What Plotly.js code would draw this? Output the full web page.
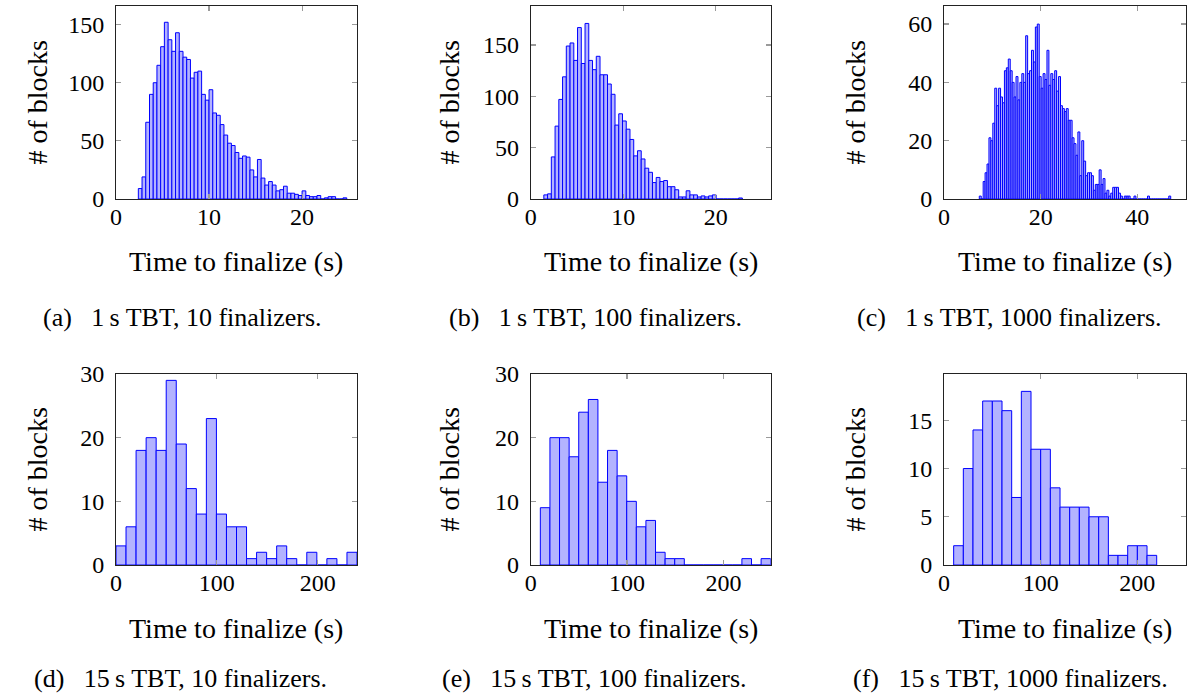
<!DOCTYPE html>
<html>
<head>
<meta charset="utf-8">
<script src="https://cdn.plot.ly/plotly-3.0.1.min.js"></script>
<style>
  html, body { margin: 0; padding: 0; background: #fff; }
  #chart { width: 1190px; height: 693px; }
</style>
</head>
<body>
<div id="chart"></div>
<script>
// ---------- data (histogram counts per bin) ----------
const countsA = [9,19,66,90,100,115,131,152,137,127,143,127,122,120,104,109,110,90,85,94,
                 74,72,64,55,48,46,40,35,37,36,25,19,34,18,12,15,12,7,8,11,
                 5,5,4,3,7,3,2,2,3,0,1,2,2,0,0,1];
const binStartA = 2.4, binWidthA = 0.4;

const countsB = [4,5,41,71,97,119,149,152,135,167,132,171,135,126,139,121,121,112,102,72,
                 83,76,68,58,42,47,39,30,26,16,21,17,18,12,12,9,2,2,8,4,
                 4,2,3,2,3,4,0,0,0,0,0,0,1];
const binStartB = 1.42, binWidthB = 0.405;

const countsC = [1,0,6,9,12,21,20,26,38,32,38,35,33,44,45,48,44,40,35,42,
                 34,40,43,40,56,43,44,51,47,59,60,42,38,43,41,51,39,43,41,44,
                 37,42,32,31,30,31,27,27,21,19,15,23,8,20,13,8,9,9,8,3,
                 5,5,10,5,7,2,3,1,2,4,4,4,2,1,0,1,1,1,0,0,
                 1,0,0,0,0,0,0,1,0,0,0,0,0,0,0,0,0,0,1];
const binStartC = 7.3, binWidthC = 0.4;

const countsD = [3,6,18,20,18,29,19,12,8,23,8,6,6,1,2,1,3,1,0,2,0,1,0,2];
const binStartD = 0, binWidthD = 239/24;

const countsE = [9,20,20,17,24,26,13,18,14,10,6,7,2,1,1,0,0,0,0,0,0,1,0,1];
const binStartE = 10, binWidthE = 239/24;

const countsF = [2,10,14,17,17,16,7,18,12,12,8,6,6,6,5,5,1,1,2,2,1];
const binStartF = 10, binWidthF = 10;

const xTitle = "Time to finalize (s)";
const yTitle = "# of blocks";
const captions = [
  "(a)\u2002 1\u2009s TBT, 10 finalizers.",
  "(b)\u2002 1\u2009s TBT, 100 finalizers.",
  "(c)\u2002 1\u2009s TBT, 1000 finalizers.",
  "(d)\u2002 15\u2009s TBT, 10 finalizers.",
  "(e)\u2002 15\u2009s TBT, 100 finalizers.",
  "(f)\u2002 15\u2009s TBT, 1000 finalizers."
];
const xTicksTop = [0, 10, 20];
const xTicksC = [0, 20, 40];
const xTicksBottom = [0, 100, 200];
const yTicksAB = [0, 50, 100, 150];
const yTicksC = [0, 20, 40, 60];
const yTicksDE = [0, 10, 20, 30];
const yTicksF = [0, 5, 10, 15];

// ---------- styling / layout ----------
const W = 1190, H = 693;
const FONT = "Liberation Serif";
const FS_TICK = 24;
const FS_TITLE = 28;
const FS_CAP = 26;
const FILL = "#b3b3ff";
const EDGE = "#0000ff";

function hist(counts, start, width, n) {
  const x = counts.map((_, i) => start + (i + 0.5) * width);
  return {
    type: "bar", x: x, y: counts, width: width,
    xaxis: "x" + (n === 1 ? "" : n), yaxis: "y" + (n === 1 ? "" : n),
    marker: { color: FILL, line: { color: EDGE, width: 1 } },
    hoverinfo: "skip"
  };
}

const traces = [
  hist(countsA, binStartA, binWidthA, 1),
  hist(countsB, binStartB, binWidthB, 2),
  hist(countsC, binStartC, binWidthC, 3),
  hist(countsD, binStartD, binWidthD, 4),
  hist(countsE, binStartE, binWidthE, 5),
  hist(countsF, binStartF, binWidthF, 6)
];

// panel boxes in pixels: [left, right, top, bottom]
const boxes = [
  [116, 357, 6, 199], [530.7, 770.7, 6, 199], [944, 1185.7, 6, 199],
  [116, 357, 374, 565], [530.7, 770.7, 374, 565], [944, 1185.7, 374, 565]
];
const xRanges = [[0, 25.9], [0, 25.95], [0, 50], [0, 239], [0, 249], [0, 250]];
const yRanges = [[0, 166], [0, 188], [0, 66.2], [0, 30], [0, 30], [0, 19.8]];
const xTickSets = [xTicksTop, xTicksTop, xTicksC, xTicksBottom, xTicksBottom, xTicksBottom];
const yTickSets = [yTicksAB, yTicksAB, yTicksC, yTicksDE, yTicksDE, yTicksF];

function axisBase() {
  return {
    showline: true, linecolor: "#222", linewidth: 1, mirror: "ticks",
    ticks: "inside", ticklen: 5, tickcolor: "#9a9a9a", tickwidth: 1.2,
    showgrid: false, zeroline: false, fixedrange: true,
    tickfont: { family: FONT, size: FS_TICK, color: "#000" }
  };
}

const layout = {
  width: W, height: H, margin: { l: 0, r: 0, t: 0, b: 0 },
  paper_bgcolor: "#fff", plot_bgcolor: "#fff",
  showlegend: false, bargap: 0,
  font: { family: FONT, size: FS_TICK, color: "#000" },
  annotations: []
};

const yTitleX = [37, 449, 855, 37, 449, 855];
const xTitleY = [262, 262, 262, 628, 628, 628];
const capX = [182, 595, 1009, 180, 594, 1010];
const capY = [317, 317, 317, 678, 678, 678];

boxes.forEach((b, i) => {
  const n = i + 1;
  const xa = axisBase(), ya = axisBase();
  xa.domain = [b[0] / W, b[1] / W];
  ya.domain = [1 - b[3] / H, 1 - b[2] / H];
  xa.range = xRanges[i]; ya.range = yRanges[i];
  xa.tickvals = xTickSets[i]; ya.tickvals = yTickSets[i];
  xa.anchor = "y" + (n === 1 ? "" : n);
  ya.anchor = "x" + (n === 1 ? "" : n);
  xa.ticklabelstandoff = -4; ya.ticklabelstandoff = 6;
  layout["xaxis" + (n === 1 ? "" : n)] = xa;
  layout["yaxis" + (n === 1 ? "" : n)] = ya;

  layout.annotations.push({
    text: xTitle, xref: "paper", yref: "paper", showarrow: false,
    x: (b[0] + b[1]) / 2 / W, y: 1 - xTitleY[i] / H, xanchor: "center", yanchor: "middle",
    font: { family: FONT, size: FS_TITLE, color: "#000" }
  });
  layout.annotations.push({
    text: yTitle, xref: "paper", yref: "paper", showarrow: false, textangle: -90,
    x: yTitleX[i] / W, y: 1 - (b[2] + b[3]) / 2 / H, xanchor: "center", yanchor: "middle",
    font: { family: FONT, size: FS_TITLE, color: "#000" }
  });
  layout.annotations.push({
    text: captions[i], xref: "paper", yref: "paper", showarrow: false,
    x: capX[i] / W, y: 1 - capY[i] / H, xanchor: "center", yanchor: "middle",
    font: { family: FONT, size: FS_CAP, color: "#000" }
  });
});

Plotly.newPlot("chart", traces, layout, { staticPlot: true, displayModeBar: false });
</script>
</body>
</html>
